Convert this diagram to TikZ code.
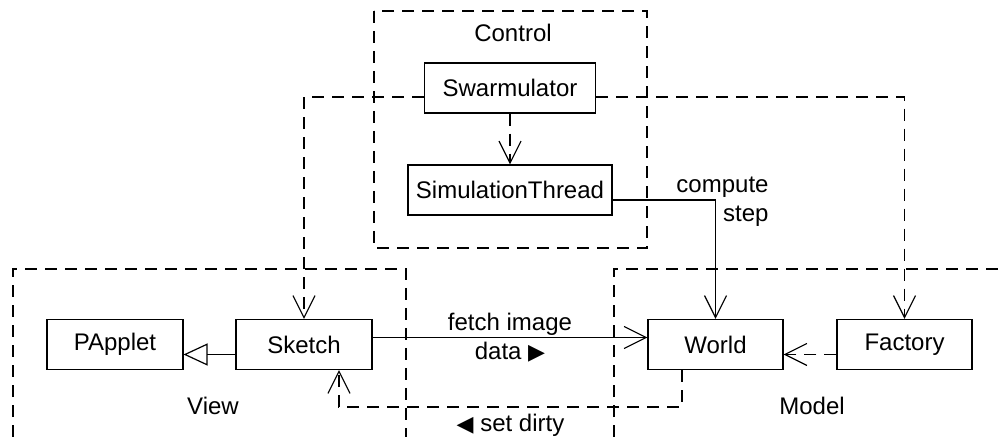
\documentclass[tikz,border=0pt]{standalone}
\usepackage{fontspec}
\setmainfont{Liberation Sans}
\newfontfamily\symfont{DejaVu Sans}
\usetikzlibrary{arrows.meta}
\newcommand{\tri}[1]{{\symfont\fontsize{11}{12}\selectfont #1}}
\begin{document}
\begin{tikzpicture}[x=0.5pt,y=-0.5pt,
  font=\fontsize{12}{14.5}\selectfont,
  cls/.style={draw, line width=0.55pt, inner sep=0pt, minimum height=25pt},
  grp/.style={draw, line width=0.6pt, dash pattern=on 6pt off 4pt},
  dep/.style={line width=0.6pt, dash pattern=on 6pt off 4pt,
    -{Straight Barb[length=11pt,width=11pt,line width=0.6pt]}},
  assoc/.style={line width=0.6pt,
    -{Straight Barb[length=11pt,width=11pt,line width=0.6pt]}},
  inherit/.style={line width=0.6pt,
    -{Triangle[open,length=12pt,width=11pt,line width=0.6pt]}},
  ]
\useasboundingbox (0,0) rectangle (999,437);

% packages (dashed group frames)
\draw[grp] (374,11) rectangle (647,248);
\draw[grp] (13,437) -- (13,269) -- (406,269) -- (406,437);
\draw[grp] (614,437) -- (614,269) -- (999,269);
\node (ctl) at (513,33) {Control};
\node (viewlbl) at (213,406) {View};
\node (modellbl) at (812,406) {Model};

% classes
\node[cls, minimum width=85.5pt] (swarm) at (510,88) {Swarmulator};
\node[cls, minimum width=102pt] (sim) at (510,190) {SimulationThread};
\node[cls, minimum width=68pt] (papplet) at (115,344.5) {PApplet};
\node[cls, minimum width=68pt] (sketch) at (304,344.5) {Sketch};
\node[cls, minimum width=67.5pt] (world) at (715.5,344.5) {World};
\node[cls, minimum width=67.5pt] (factory) at (904.5,344.5) {Factory};

% relations
\draw[dep] (swarm) -- (sim);
\draw[dep] ([yshift=-4.5pt]swarm.west) -| (sketch.north);
\draw[dep] ([yshift=-4.5pt]swarm.east) -| (factory.north);
\draw[assoc] ([yshift=-5pt]sim.east) -|
  node[pos=0.5, xshift=3.5pt, yshift=-1pt, align=right] {compute\\step}
  (world.north);
\draw[assoc] ([yshift=3.5pt]sketch.east) --
  node[align=center] {fetch image\\data~\tri{▶}}
  ([yshift=3.5pt]world.west);
\draw[inherit] ([yshift=-5pt]sketch.west) -- ([yshift=-5pt]papplet.east);
\draw[dep] ([yshift=-5pt]factory.west) -- ([yshift=-5pt]world.east);
\draw[dep] ([xshift=-16.75pt]world.south) -- ++(0,37) -|
  node[pos=0.25, below] {\tri{◀}~set dirty}
  ([xshift=17.5pt]sketch.south);
\end{tikzpicture}
\end{document}
